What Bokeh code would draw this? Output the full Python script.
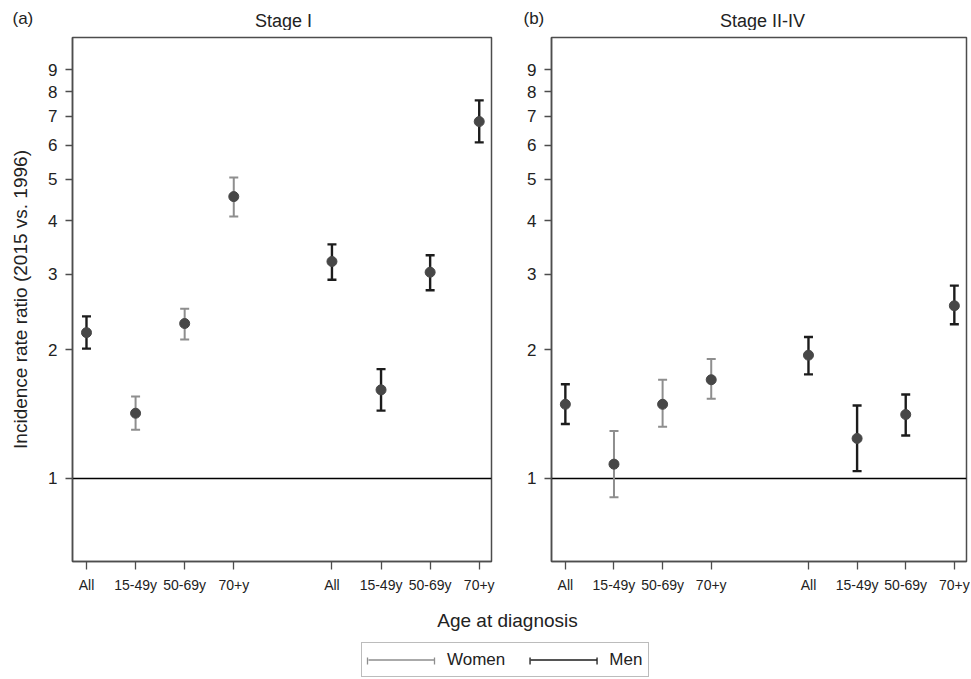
from bokeh.plotting import figure
from bokeh.models import (Range1d, FixedTicker, PrintfTickFormatter, Whisker, TeeHead,
                          ColumnDataSource, Span, Label, Legend, LegendItem)
from bokeh.layouts import column, row
from bokeh.embed import file_html
from bokeh.resources import INLINE

# ---------------- data ----------------
age_groups = ["All", "15-49y", "50-69y", "70+y", "All", "15-49y", "50-69y", "70+y"]
sex = ["Women", "Women", "Women", "Women", "Men", "Men", "Men", "Men"]

stage1_irr = [2.19, 1.42, 2.30, 4.55, 3.21, 1.61, 3.03, 6.81]
stage1_lo = [2.01, 1.30, 2.11, 4.09, 2.91, 1.44, 2.75, 6.09]
stage1_hi = [2.39, 1.554, 2.49, 5.04, 3.52, 1.80, 3.32, 7.63]

stage2_irr = [1.49, 1.08, 1.49, 1.70, 1.94, 1.24, 1.41, 2.53]
stage2_lo = [1.34, 0.904, 1.32, 1.535, 1.75, 1.04, 1.26, 2.29]
stage2_hi = [1.66, 1.29, 1.70, 1.90, 2.14, 1.48, 1.57, 2.82]

y_ticks = [1, 2, 3, 4, 5, 6, 7, 8, 9]
panel_titles = ["Stage I", "Stage II-IV"]
panel_tags = ["(a)", "(b)"]
y_title = "Incidence rate ratio (2015 vs. 1996)"
x_title = "Age at diagnosis"
legend_labels = ["Women", "Men"]

# ---------------- style ----------------
FONT = "Liberation Sans"
DARK = "#1c1c1c"
GRAY = "#8e8e8e"
POINT = "#474747"
FRAME = "#4d4d4d"
TEXT = "#222222"
W_TOTAL = 970

# x positions: women 1..4, gap, men 6..9
x_pos = [i + 1 + (1 if s == "Men" else 0) for i, s in enumerate(sex)]


def make_panel(irr, lo, hi, width, bl, br, ylabel=None):
    p = figure(width=width, height=570, y_axis_type="log",
               x_range=Range1d(0.715, 9.25), y_range=Range1d(0.640, 10.70),
               output_backend="svg", toolbar_location=None,
               min_border_left=bl, min_border_right=br,
               min_border_top=7, min_border_bottom=39)
    p.xgrid.visible = False
    p.ygrid.visible = False
    p.outline_line_color = FRAME
    p.outline_line_width = 1.5
    p.background_fill_color = "white"
    p.border_fill_color = "white"

    for ax in (p.xaxis, p.yaxis):
        ax.axis_line_color = FRAME
        ax.axis_line_width = 1.5
        ax.major_tick_line_color = FRAME
        ax.major_tick_line_width = 1.3
        ax.major_tick_in = 0
        ax.minor_tick_line_color = None
        ax.major_label_text_font = FONT
        ax.major_label_text_color = TEXT

    p.xaxis.ticker = FixedTicker(ticks=x_pos)
    p.xaxis.major_label_overrides = {x: lab for x, lab in zip(x_pos, age_groups)}
    p.xaxis.major_label_text_font_size = "14px"
    p.xaxis.major_tick_out = 8
    p.xaxis.major_label_standoff = 7

    p.yaxis.ticker = FixedTicker(ticks=y_ticks)
    p.yaxis.formatter = PrintfTickFormatter(format="%d")
    p.yaxis.major_label_text_font_size = "17px"
    p.yaxis.major_tick_out = 7
    p.yaxis.major_label_standoff = 8
    if ylabel:
        p.yaxis.axis_label = ylabel
        p.yaxis.axis_label_text_font = FONT
        p.yaxis.axis_label_text_font_size = "19px"
        p.yaxis.axis_label_text_font_style = "normal"
        p.yaxis.axis_label_text_color = TEXT
        p.yaxis.axis_label_standoff = 14

    p.add_layout(Span(location=1, dimension="width", line_color="black",
                      line_width=1.5, level="underlay"))

    dark_idx = [i for i in range(len(sex)) if sex[i] == "Men" or age_groups[i] == "All"]
    gray_idx = [i for i in range(len(sex)) if i not in dark_idx]
    for idx, col, lw in ((gray_idx, GRAY, 2.0), (dark_idx, DARK, 2.4)):
        src = ColumnDataSource(dict(x=[x_pos[i] for i in idx],
                                    lo=[lo[i] for i in idx],
                                    hi=[hi[i] for i in idx]))
        w = Whisker(source=src, base="x", lower="lo", upper="hi", dimension="height",
                    line_color=col, line_width=lw, level="underlay",
                    upper_head=TeeHead(size=9, line_color=col, line_width=lw),
                    lower_head=TeeHead(size=9, line_color=col, line_width=lw))
        p.add_layout(w)

    p.scatter(x=x_pos, y=irr, size=10, fill_color=POINT, line_color=POINT)
    return p


# top strip: panel tags and titles
p0 = figure(width=W_TOTAL, height=30, x_range=Range1d(0, W_TOTAL), y_range=Range1d(30, 0),
            output_backend="svg", toolbar_location=None, min_border=0)
p0.axis.visible = False
p0.xgrid.visible = False
p0.ygrid.visible = False
p0.outline_line_color = None
for txt, x, y, align in ((panel_tags[0], 12, 18, "left"), (panel_titles[0], 283, 20, "center"),
                         (panel_tags[1], 523, 18, "left"), (panel_titles[1], 762, 20, "center")):
    p0.add_layout(Label(x=x, y=y, text=txt, text_font=FONT,
                        text_font_size="17px" if txt.startswith("(") else "18px",
                        text_color=TEXT, text_align=align, text_baseline="middle"))

p1 = make_panel(stage1_irr, stage1_lo, stage1_hi, width=500, bl=72, br=9, ylabel=y_title)
p2 = make_panel(stage2_irr, stage2_lo, stage2_hi, width=W_TOTAL - 500, bl=51, br=4)

# bottom strip: x-axis title + legend
H3 = 78
p3 = figure(width=W_TOTAL, height=H3, x_range=Range1d(0, W_TOTAL), y_range=Range1d(H3, 0),
            output_backend="svg", toolbar_location=None, min_border=0)
p3.axis.visible = False
p3.xgrid.visible = False
p3.ygrid.visible = False
p3.outline_line_color = None
p3.add_layout(Label(x=507, y=20, text=x_title, text_font=FONT, text_font_size="19px",
                    text_color=TEXT, text_align="center", text_baseline="middle"))

LX, LY, PAD, GW, GH, STANDOFF, SPACING = 361, 1, 6, 67, 21, 12, 25
rw = p3.line(x=[-100, -90], y=[-100, -100], line_color=GRAY, line_width=1.5)
rm = p3.line(x=[-100, -90], y=[-100, -100], line_color=DARK, line_width=1.5)
legend = Legend(items=[LegendItem(label=legend_labels[0], renderers=[rw]),
                       LegendItem(label=legend_labels[1], renderers=[rm])],
                orientation="horizontal", location=(LX, LY),
                glyph_width=GW, glyph_height=GH, label_height=GH,
                label_text_font=FONT, label_text_font_size="17px",
                label_text_color=TEXT, padding=PAD, spacing=SPACING,
                label_standoff=STANDOFF, background_fill_alpha=0,
                border_line_color="#7a7a7a", border_line_width=1.2, margin=0)
p3.add_layout(legend)

# end caps on the legend samples (drawn under the transparent legend)
women_w = 3.444 * 17
g1 = LX + PAD
g2 = g1 + GW + STANDOFF + women_w + SPACING
cy = H3 - LY - PAD - GH / 2
cap_x = [g1, g1 + GW, g2, g2 + GW]
cap_c = [GRAY, GRAY, DARK, DARK]
p3.segment(x0=cap_x, x1=cap_x, y0=[cy - 3.5] * 4, y1=[cy + 3.5] * 4,
           line_color=cap_c, line_width=1.3)

layout = column(p0, row(p1, p2), p3)
open("out.html", "w").write(file_html(layout, INLINE))
